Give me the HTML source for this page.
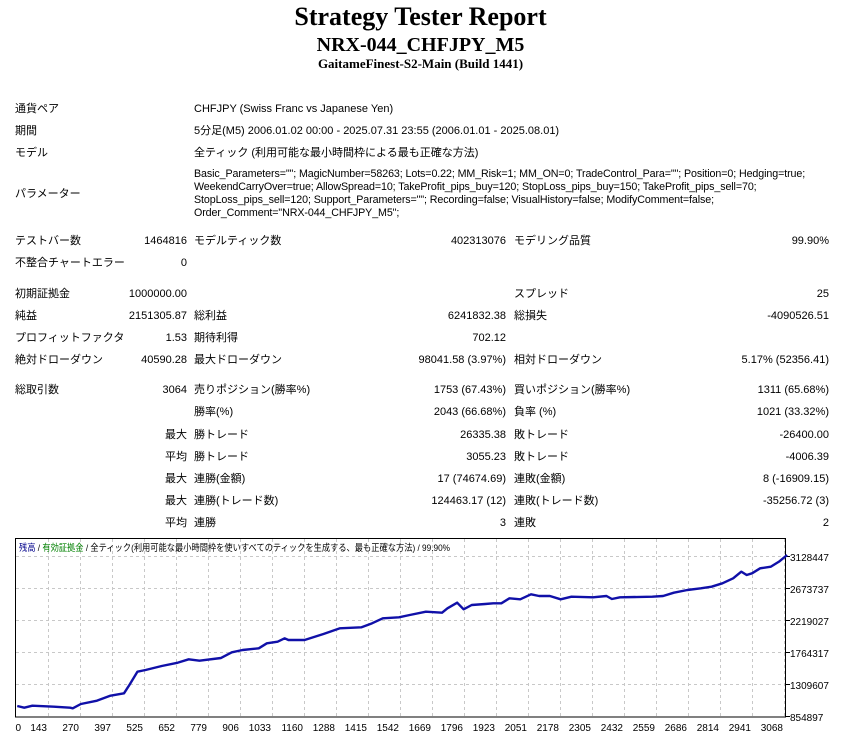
<!DOCTYPE html>
<html><head><meta charset="utf-8"><style>
body{margin:0;width:841px;height:735px;background:#fff;position:relative;overflow:hidden;font-family:"Liberation Sans","Noto Sans CJK JP",sans-serif;font-size:11px;color:#000}
.t{position:absolute;white-space:nowrap;line-height:14px;height:14px}
.r{text-align:right}
.p{font-size:10.7px;letter-spacing:-0.1px}
h1,h2,h3{position:absolute;left:0;width:841px;text-align:center;margin:0;font-family:"Liberation Serif","Noto Serif CJK SC",serif;font-weight:bold;white-space:nowrap}
</style></head><body>
<h1 style="top:2px;font-size:26px;line-height:30px">Strategy Tester Report</h1>
<h2 style="top:33px;font-size:20px;line-height:24px">NRX-044_CHFJPY_M5</h2>
<h3 style="top:56px;font-size:13px;line-height:16px">GaitameFinest-S2-Main (Build 1441)</h3>

<div class="t" style="left:15px;top:102px">通貨ペア</div>
<div class="t" style="left:194px;top:102px">CHFJPY (Swiss Franc vs Japanese Yen)</div>
<div class="t" style="left:15px;top:124px">期間</div>
<div class="t" style="left:194px;top:124px">5分足(M5) 2006.01.02 00:00 - 2025.07.31 23:55 (2006.01.01 - 2025.08.01)</div>
<div class="t" style="left:15px;top:146px">モデル</div>
<div class="t" style="left:194px;top:146px">全ティック (利用可能な最小時間枠による最も正確な方法)</div>
<div class="t" style="left:15px;top:187px">パラメーター</div>
<div class="t p" style="left:194px;top:167px">Basic_Parameters=""; MagicNumber=58263; Lots=0.22; MM_Risk=1; MM_ON=0; TradeControl_Para=""; Position=0; Hedging=true;</div>
<div class="t p" style="left:194px;top:180px">WeekendCarryOver=true; AllowSpread=10; TakeProfit_pips_buy=120; StopLoss_pips_buy=150; TakeProfit_pips_sell=70;</div>
<div class="t p" style="left:194px;top:193px">StopLoss_pips_sell=120; Support_Parameters=""; Recording=false; VisualHistory=false; ModifyComment=false;</div>
<div class="t p" style="left:194px;top:206px">Order_Comment="NRX-044_CHFJPY_M5";</div>

<div class="t" style="left:15px;top:234px">テストバー数</div>
<div class="t r" style="left:100px;width:87px;top:234px">1464816</div>
<div class="t" style="left:194px;top:234px">モデルティック数</div>
<div class="t r" style="left:400px;width:106px;top:234px">402313076</div>
<div class="t" style="left:514px;top:234px">モデリング品質</div>
<div class="t r" style="left:700px;width:129px;top:234px">99.90%</div>
<div class="t" style="left:15px;top:256px">不整合チャートエラー</div>
<div class="t r" style="left:100px;width:87px;top:256px">0</div>

<div class="t" style="left:15px;top:287px">初期証拠金</div>
<div class="t r" style="left:100px;width:87px;top:287px">1000000.00</div>
<div class="t" style="left:514px;top:287px">スプレッド</div>
<div class="t r" style="left:700px;width:129px;top:287px">25</div>

<div class="t" style="left:15px;top:309px">純益</div>
<div class="t r" style="left:100px;width:87px;top:309px">2151305.87</div>
<div class="t" style="left:194px;top:309px">総利益</div>
<div class="t r" style="left:400px;width:106px;top:309px">6241832.38</div>
<div class="t" style="left:514px;top:309px">総損失</div>
<div class="t r" style="left:700px;width:129px;top:309px">-4090526.51</div>

<div class="t" style="left:15px;top:331px">プロフィットファクタ</div>
<div class="t r" style="left:100px;width:87px;top:331px">1.53</div>
<div class="t" style="left:194px;top:331px">期待利得</div>
<div class="t r" style="left:400px;width:106px;top:331px">702.12</div>

<div class="t" style="left:15px;top:353px">絶対ドローダウン</div>
<div class="t r" style="left:100px;width:87px;top:353px">40590.28</div>
<div class="t" style="left:194px;top:353px">最大ドローダウン</div>
<div class="t r" style="left:350px;width:156px;top:353px">98041.58 (3.97%)</div>
<div class="t" style="left:514px;top:353px">相対ドローダウン</div>
<div class="t r" style="left:650px;width:179px;top:353px">5.17% (52356.41)</div>

<div class="t" style="left:15px;top:383px">総取引数</div>
<div class="t r" style="left:100px;width:87px;top:383px">3064</div>
<div class="t" style="left:194px;top:383px">売りポジション(勝率%)</div>
<div class="t r" style="left:350px;width:156px;top:383px">1753 (67.43%)</div>
<div class="t" style="left:514px;top:383px">買いポジション(勝率%)</div>
<div class="t r" style="left:650px;width:179px;top:383px">1311 (65.68%)</div>

<div class="t" style="left:194px;top:405px">勝率(%)</div>
<div class="t r" style="left:350px;width:156px;top:405px">2043 (66.68%)</div>
<div class="t" style="left:514px;top:405px">負率 (%)</div>
<div class="t r" style="left:650px;width:179px;top:405px">1021 (33.32%)</div>

<div class="t r" style="left:100px;width:87px;top:428px">最大</div>
<div class="t" style="left:194px;top:428px">勝トレード</div>
<div class="t r" style="left:350px;width:156px;top:428px">26335.38</div>
<div class="t" style="left:514px;top:428px">敗トレード</div>
<div class="t r" style="left:650px;width:179px;top:428px">-26400.00</div>

<div class="t r" style="left:100px;width:87px;top:450px">平均</div>
<div class="t" style="left:194px;top:450px">勝トレード</div>
<div class="t r" style="left:350px;width:156px;top:450px">3055.23</div>
<div class="t" style="left:514px;top:450px">敗トレード</div>
<div class="t r" style="left:650px;width:179px;top:450px">-4006.39</div>

<div class="t r" style="left:100px;width:87px;top:472px">最大</div>
<div class="t" style="left:194px;top:472px">連勝(金額)</div>
<div class="t r" style="left:350px;width:156px;top:472px">17 (74674.69)</div>
<div class="t" style="left:514px;top:472px">連敗(金額)</div>
<div class="t r" style="left:650px;width:179px;top:472px">8 (-16909.15)</div>

<div class="t r" style="left:100px;width:87px;top:494px">最大</div>
<div class="t" style="left:194px;top:494px">連勝(トレード数)</div>
<div class="t r" style="left:350px;width:156px;top:494px">124463.17 (12)</div>
<div class="t" style="left:514px;top:494px">連敗(トレード数)</div>
<div class="t r" style="left:650px;width:179px;top:494px">-35256.72 (3)</div>

<div class="t r" style="left:100px;width:87px;top:516px">平均</div>
<div class="t" style="left:194px;top:516px">連勝</div>
<div class="t r" style="left:350px;width:156px;top:516px">3</div>
<div class="t" style="left:514px;top:516px">連敗</div>
<div class="t r" style="left:650px;width:179px;top:516px">2</div>

<svg style="position:absolute;left:0;top:0" width="841" height="735">
<g stroke="#c8c8c8" stroke-dasharray="3,3" stroke-width="1">
<line x1="16" x2="786" y1="556.5" y2="556.5"/><line x1="16" x2="786" y1="588.5" y2="588.5"/><line x1="16" x2="786" y1="620.5" y2="620.5"/><line x1="16" x2="786" y1="652.5" y2="652.5"/><line x1="16" x2="786" y1="684.5" y2="684.5"/>
<line x1="48.5" x2="48.5" y1="539" y2="717"/><line x1="80.5" x2="80.5" y1="539" y2="717"/><line x1="112.5" x2="112.5" y1="539" y2="717"/><line x1="144.5" x2="144.5" y1="539" y2="717"/><line x1="176.5" x2="176.5" y1="539" y2="717"/><line x1="208.5" x2="208.5" y1="539" y2="717"/><line x1="240.5" x2="240.5" y1="539" y2="717"/><line x1="272.5" x2="272.5" y1="539" y2="717"/><line x1="304.5" x2="304.5" y1="539" y2="717"/><line x1="336.5" x2="336.5" y1="539" y2="717"/><line x1="368.5" x2="368.5" y1="539" y2="717"/><line x1="400.5" x2="400.5" y1="539" y2="717"/><line x1="432.5" x2="432.5" y1="539" y2="717"/><line x1="464.5" x2="464.5" y1="539" y2="717"/><line x1="496.5" x2="496.5" y1="539" y2="717"/><line x1="528.5" x2="528.5" y1="539" y2="717"/><line x1="560.5" x2="560.5" y1="539" y2="717"/><line x1="592.5" x2="592.5" y1="539" y2="717"/><line x1="624.5" x2="624.5" y1="539" y2="717"/><line x1="656.5" x2="656.5" y1="539" y2="717"/><line x1="688.5" x2="688.5" y1="539" y2="717"/><line x1="720.5" x2="720.5" y1="539" y2="717"/><line x1="752.5" x2="752.5" y1="539" y2="717"/><line x1="784.5" x2="784.5" y1="539" y2="717"/>
</g>
<rect x="15.5" y="538.5" width="770" height="178.5" fill="none" stroke="#000" stroke-width="1"/>
<g stroke="#000">
<line x1="786" x2="790" y1="556.5" y2="556.5"/><line x1="786" x2="790" y1="588.5" y2="588.5"/><line x1="786" x2="790" y1="620.5" y2="620.5"/><line x1="786" x2="790" y1="652.5" y2="652.5"/><line x1="786" x2="790" y1="684.5" y2="684.5"/><line x1="786" x2="790" y1="716.5" y2="716.5"/>
</g>
<g transform="translate(0,530) scale(0.5391,0.33333)">
<polyline fill="none" stroke="#1010a8" stroke-width="2.4" vector-effect="non-scaling-stroke" stroke-linejoin="round" points="32,528 45,533 60,527 100,530 130,533 135,535 150,522 180,512 205,497 230,490 240,465 255,425 270,420 300,408 330,398 350,388 370,392 410,384 430,367 450,360 480,355 495,340 515,335 528,325 535,330 565,330 600,312 630,295 670,292 690,280 710,265 740,262 760,255 790,245 820,248 830,235 848,218 860,238 875,225 900,222 915,220 930,220 945,205 965,208 985,193 1000,198 1020,198 1040,208 1060,200 1100,202 1125,198 1135,207 1150,202 1210,200 1230,198 1250,188 1275,180 1300,175 1320,170 1340,160 1360,145 1375,125 1385,135 1395,130 1410,115 1430,110 1445,95 1460,75"/>
</g>
<g font-family="Liberation Sans, sans-serif" font-size="10" fill="#000">
<text x="790" y="561">3128447</text><text x="790" y="593">2673737</text><text x="790" y="625">2219027</text><text x="790" y="657">1764317</text><text x="790" y="689">1309607</text><text x="790" y="721">854897</text>
<g text-anchor="end">
<text x="21" y="731">0</text><text x="47" y="731">143</text><text x="79" y="731">270</text><text x="111" y="731">397</text><text x="143" y="731">525</text><text x="175" y="731">652</text><text x="207" y="731">779</text><text x="239" y="731">906</text><text x="271" y="731">1033</text><text x="303" y="731">1160</text><text x="335" y="731">1288</text><text x="367" y="731">1415</text><text x="399" y="731">1542</text><text x="431" y="731">1669</text><text x="463" y="731">1796</text><text x="495" y="731">1923</text><text x="527" y="731">2051</text><text x="559" y="731">2178</text><text x="591" y="731">2305</text><text x="623" y="731">2432</text><text x="655" y="731">2559</text><text x="687" y="731">2686</text><text x="719" y="731">2814</text><text x="751" y="731">2941</text><text x="783" y="731">3068</text>
</g>
<text x="19" y="551" font-family="Liberation Sans, Noto Sans CJK JP, sans-serif" font-size="9.5" textLength="431" lengthAdjust="spacingAndGlyphs"><tspan fill="#00008b">残高</tspan> / <tspan fill="#008000">有効証拠金</tspan> / 全ティック(利用可能な最小時間枠を使いすべてのティックを生成する、最も正確な方法) / 99.90%</text>
</g>
</svg>
</body></html>
